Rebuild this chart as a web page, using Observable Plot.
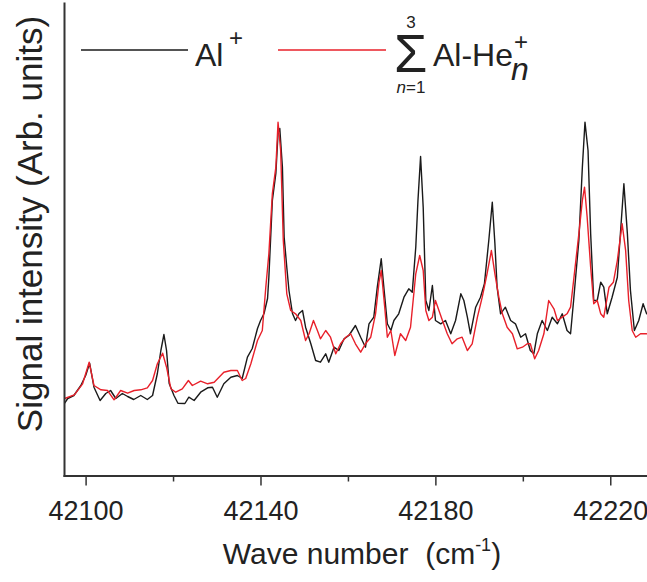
<!DOCTYPE html>
<html>
<head>
<meta charset="utf-8">
<script src="https://cdn.jsdelivr.net/npm/d3@7"></script>
<script src="https://cdn.jsdelivr.net/npm/@observablehq/plot@0.6"></script>
<style>
  html, body { margin: 0; padding: 0; background: #fff; }
  #chart { width: 647px; height: 582px; }
  svg { font-family: "Liberation Sans", Arial, sans-serif; }
</style>
</head>
<body>
<div id="chart"></div>
<script>
// Al+ signal (black)
const wnAl = [42095.1,42095.8,42097.2,42098.8,42099.9,42100.8,42101.8,42103.2,42104.5,42105.6,42106.8,42108.3,42109.5,42110.9,42112.5,42114.0,42115.2,42116.3,42117.1,42117.8,42118.4,42119.0,42120.1,42121.0,42122.6,42123.5,42124.7,42126.2,42127.8,42128.9,42130.0,42131.5,42133.1,42134.6,42135.7,42136.9,42138.0,42139.2,42139.9,42140.7,42141.5,42141.8,42142.6,42143.4,42143.9,42144.3,42144.9,42145.3,42145.9,42146.4,42147.2,42147.9,42148.7,42149.5,42150.2,42151.4,42152.5,42153.6,42154.8,42155.5,42156.7,42157.8,42159.0,42160.1,42161.6,42162.8,42163.9,42164.7,42165.8,42166.6,42167.5,42168.1,42168.9,42169.7,42170.4,42171.5,42172.7,42173.8,42174.6,42175.4,42175.9,42176.5,42177.1,42177.7,42178.4,42179.2,42179.9,42181.1,42182.2,42183.4,42184.5,42185.7,42186.4,42187.2,42187.9,42189.1,42190.2,42191.1,42192.1,42192.9,42193.5,42194.0,42194.8,42195.9,42197.1,42198.2,42199.4,42200.5,42201.6,42202.4,42203.2,42204.3,42205.5,42206.6,42207.8,42208.9,42210.0,42210.8,42211.5,42212.7,42213.5,42214.1,42214.8,42215.4,42216.1,42216.9,42217.7,42218.4,42219.2,42220.3,42221.5,42222.2,42223.0,42223.8,42224.5,42225.4,42226.4,42227.4,42228.2];
const intAl = [72.8,77.5,80.5,90.5,100.5,112.8,88.8,75.5,82.5,85.5,77.5,82.5,79.5,76.5,80.5,76.5,80.5,102.5,125.5,141.5,125.5,92.5,80.5,72.8,72.5,78.8,75.5,83.8,88.2,88.8,78.8,92.2,98.8,100.5,97.5,118.8,127.5,147.5,155.5,162.5,177.5,198.8,275.5,302.5,342.5,347.5,308.8,238.8,208.8,185.5,162.5,155.5,162.5,165.5,148.8,132.2,115.5,113.8,122.2,113.8,128.8,125.5,137.2,140.5,150.5,138.8,128.8,152.2,158.8,188.8,217.2,188.8,152.2,145.5,155.5,162.2,178.8,187.2,183.8,228.8,275.5,319.5,268.8,175.5,165.5,190.5,155.5,152.2,155.5,142.2,155.5,182.2,175.5,158.8,142.2,168.8,178.8,192.2,235.5,273.8,232.2,188.8,162.2,168.8,155.5,152.2,138.8,142.2,125.5,122.2,142.2,155.5,145.5,158.8,152.2,162.2,145.5,142.2,175.5,235.5,308.8,353.8,325.5,242.2,175.5,175.5,193.8,188.8,162.2,178.8,198.8,242.2,292.2,242.2,185.5,145.5,155.5,172.2,162.2];

// Sum of Al-He_n+ (n = 1..3) signal (red)
const wnHe = [42095.1,42097.3,42099.2,42100.7,42101.8,42103.4,42104.9,42106.4,42107.9,42109.5,42111.0,42112.5,42114.0,42115.2,42116.3,42117.5,42118.4,42119.4,42120.5,42122.0,42123.4,42124.3,42126.2,42127.8,42129.3,42131.5,42133.1,42134.6,42135.7,42136.5,42137.7,42139.2,42140.3,42141.1,42141.8,42142.6,42143.4,42143.9,42144.5,42145.1,42145.9,42146.8,42147.9,42149.1,42150.2,42151.0,42152.0,42152.9,42153.6,42154.8,42155.9,42157.1,42158.2,42159.4,42160.5,42161.6,42162.8,42163.9,42165.1,42166.2,42167.0,42167.5,42168.3,42168.9,42169.7,42170.6,42171.9,42173.1,42174.2,42175.4,42176.3,42177.1,42177.7,42178.4,42179.2,42179.9,42181.5,42182.6,42183.7,42184.9,42186.0,42187.2,42188.3,42189.5,42190.6,42191.7,42192.7,42193.5,42194.4,42195.2,42196.3,42197.5,42198.6,42199.8,42200.9,42201.6,42202.6,42203.5,42204.7,42205.8,42207.0,42207.8,42208.9,42210.0,42210.8,42211.5,42212.7,42213.5,42214.0,42214.6,42215.4,42216.1,42216.9,42217.7,42218.4,42219.6,42220.6,42221.5,42222.6,42223.4,42224.1,42224.9,42225.7,42226.8,42228.2];
const intHe = [77.5,81.2,92.2,113.8,90.5,86.2,85.5,76.2,85.5,82.8,85.5,86.2,88.2,95.5,112.2,122.8,108.8,87.2,83.8,87.2,95.5,90.5,94.8,92.2,93.8,103.8,105.5,105.5,95.5,97.5,112.5,135.5,145.5,188.8,222.2,282.5,308.8,353.8,325.5,235.5,182.2,165.5,162.2,155.5,135.5,142.2,155.5,145.5,137.2,145.5,138.8,122.2,132.2,138.8,142.2,132.2,123.8,132.2,138.8,162.2,193.8,205.5,168.8,138.8,145.5,120.5,142.2,135.5,148.8,202.2,220.5,205.5,165.5,155.5,158.8,175.5,155.5,142.2,132.2,137.2,138.8,125.5,132.2,158.8,178.8,202.2,225.5,202.2,178.8,162.2,148.8,142.2,127.2,128.8,132.2,132.2,117.2,125.5,142.2,175.5,167.2,155.5,158.8,162.2,168.8,195.5,242.2,275.5,288.8,258.8,208.8,172.2,175.5,162.2,158.8,188.8,193.8,215.5,252.2,225.5,175.5,145.5,138.8,142.2,142.2];

const majorTicks = [42100, 42140, 42180, 42220];
const minorTicks = [42120, 42160, 42200];
const xDomain = [42095.06, 42228.4];
const yDomain = [0, 472.5];

const al = wnAl.map((x, i) => ({x, y: intAl[i]}));
const he = wnHe.map((x, i) => ({x, y: intHe[i]}));

const axisColor = "#333";
const textColor = "#222";
const chart = Plot.plot({
  width: 647,
  height: 582,
  marginLeft: 64,
  marginRight: 0,
  marginTop: 3,
  marginBottom: 106.5,
  style: {fontFamily: '"Liberation Sans", Arial, sans-serif', color: textColor, background: "#fff", overflow: "visible"},
  x: {domain: xDomain},
  y: {domain: yDomain, axis: null},
  marks: [
    Plot.line(al, {x: "x", y: "y", stroke: "#1a1a1a", strokeWidth: 1.4, curve: "linear"}),
    Plot.line(he, {x: "x", y: "y", stroke: "#e8202a", strokeWidth: 1.4, curve: "linear"}),
    Plot.axisX({ticks: majorTicks, tickSize: 10, tickPadding: 15, tickFormat: d => String(d), fontSize: 27, label: null, stroke: axisColor, strokeWidth: 1.5}),
    Plot.axisX({ticks: minorTicks, tickSize: 6, tickFormat: () => "", label: null, stroke: axisColor, strokeWidth: 1.5}),
    Plot.frame({anchor: "left", stroke: axisColor, strokeWidth: 2}),
    Plot.frame({anchor: "bottom", stroke: axisColor, strokeWidth: 2})
  ]
});
document.getElementById("chart").appendChild(chart);

const svg = d3.select(chart);

// Axis titles
const xt = svg.append("text")
  .attr("x", 362).attr("y", 564)
  .attr("text-anchor", "middle")
  .attr("font-size", 30).attr("fill", textColor);
xt.append("tspan").text("Wave number  (cm");
xt.append("tspan").attr("dy", -13).attr("font-size", 18).text("-1");
xt.append("tspan").attr("dy", 13).text(")");

svg.append("text")
  .attr("transform", "translate(42,224) rotate(-90)")
  .attr("text-anchor", "middle")
  .attr("font-size", 35).attr("fill", textColor)
  .text("Signal intensity (Arb. units)");

// Legend
const lg = svg.append("g").attr("text-anchor", "start").attr("fill", textColor);
lg.append("line").attr("x1", 81).attr("x2", 188).attr("y1", 50).attr("y2", 50)
  .attr("stroke", "#1a1a1a").attr("stroke-width", 1.4);
lg.append("text").attr("x", 195).attr("y", 66).attr("font-size", 32).text("Al");
lg.append("text").attr("x", 229).attr("y", 46).attr("font-size", 24).text("+");

lg.append("line").attr("x1", 278).attr("x2", 386).attr("y1", 50).attr("y2", 50)
  .attr("stroke", "#e8202a").attr("stroke-width", 1.4);
lg.append("text").attr("x", 394).attr("y", 72).attr("font-size", 54).text("Σ");
lg.append("text").attr("x", 411).attr("y", 28).attr("text-anchor", "middle").attr("font-size", 17).text("3");
const n1 = lg.append("text").attr("x", 411).attr("y", 93).attr("text-anchor", "middle").attr("font-size", 17);
n1.append("tspan").attr("font-style", "italic").text("n");
n1.append("tspan").text("=1");
lg.append("text").attr("x", 433).attr("y", 66).attr("font-size", 32).text("Al-He");
lg.append("text").attr("x", 514).attr("y", 50).attr("font-size", 24).text("+");
lg.append("text").attr("x", 511).attr("y", 80).attr("font-size", 32).attr("font-style", "italic").text("n");
</script>
</body>
</html>
